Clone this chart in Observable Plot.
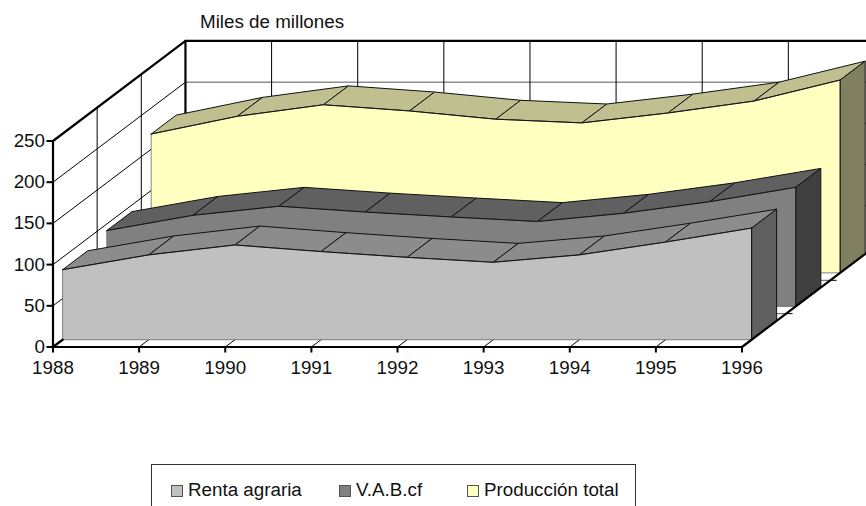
<!DOCTYPE html>
<html>
<head>
<meta charset="utf-8">
<script src="https://cdn.jsdelivr.net/npm/d3@7"></script>
<script src="https://cdn.jsdelivr.net/npm/@observablehq/plot@0.6"></script>
<style>
html,body{margin:0;padding:0;background:#fff;overflow:hidden;width:866px;height:506px;font-family:"Liberation Sans",Arial,sans-serif;color:#111}
#title{height:36px;box-sizing:border-box;padding-left:200px;padding-top:11px;font-size:18.8px;line-height:22px}
#chart svg{display:block}
#legend{position:absolute;left:151px;top:464px;width:485px;height:60px;box-sizing:border-box;border:1px solid #333;font-size:18.8px;line-height:22px}
#legend span.item{position:absolute;top:14px;white-space:nowrap}
#legend i{display:inline-block;width:10px;height:10px;border:1px solid #555;margin-right:5px;vertical-align:-1px}
</style>
</head>
<body>
<div id="title">Miles de millones</div>
<div id="chart"></div>
<div id="legend"></div>
<script>
const years = [1988,1989,1990,1991,1992,1993,1994,1995,1996];
const rentaAgraria    = [85,103,115,107,100,94,103,118.5,135.5];
const vabCf           = [92,110.5,121.5,114.5,108.5,103,113,127,144.5];
const produccionTotal = [168.5,190,204,196.5,186.5,182,194,208.5,234];
const valueTicks = [0,50,100,150,200,250];
const seriesNames = ["Renta agraria","V.A.B.cf","Producción total"];
const faceColors = ["#c0c0c0","#808080","#ffffc0"];
const roofColors = ["#8c8c8c","#606060","#bfbf90"];
const sideColors = ["#606060","#404040","#808060"];
const seriesValues = [rentaAgraria,vabCf,produccionTotal];

// oblique projection of the depth axis, expressed in data units
const depthX = 1.538, depthY = 121.4;
const bandFront = [0.0725,0.406,0.741], bandWidth = 0.189;
const P = (year,value,d) => ({x:year+d*depthX, y:value+d*depthY});
const yMax = 250, y0 = years[0], y1 = years[years.length-1];

const poly = (pts,id) => pts.map(([a,b,d]) => ({...P(a,b,d),id}));
const thin = {strokeWidth:1, strokeLinejoin:"round"};

function gridLines(){
  const rows=[], grey=[];
  // left wall and back wall
  valueTicks.slice(1,5).forEach((v,i)=>{
    rows.push(...poly([[y0,v,0],[y0,v,1]],"w"+i));
    grey.push(...poly([[y0,v,1],[y1,v,1]],"b"+i));
  });
  [1/3,2/3].forEach((d,i)=>rows.push(...poly([[y0,0,d],[y0,yMax,d]],"d"+i)));
  years.slice(1).forEach((yr,i)=>{
    rows.push(...poly([[yr,0,1],[yr,yMax,1]],"v"+i));
    rows.push(...poly([[yr,0,0],[yr,0,1]],"f"+i));
  });
  [1/3,2/3].forEach((d,i)=>{
    grey.push(...poly([[y0,0,d],[y1,0,d]],"h"+i));
    rows.push(...poly([[y1,0,d],[y1+0.07,0,d]],"t"+i));
  });
  return [Plot.line(grey,{x:"x",y:"y",z:"id",stroke:"#555",...thin}),
          Plot.line(rows,{x:"x",y:"y",z:"id",stroke:"#000",...thin})];
}

function seriesMarks(i){
  const vals = seriesValues[i], d0 = bandFront[i], d1 = d0+bandWidth;
  const roof=[];
  for(let k=0;k<years.length-1;k++){
    roof.push(...poly([[years[k],vals[k],d0],[years[k+1],vals[k+1],d0],[years[k+1],vals[k+1],d1],[years[k],vals[k],d1],[years[k],vals[k],d0]],"r"+k));
  }
  const last = vals.length-1;
  const side = poly([[y1,0,d0],[y1,vals[last],d0],[y1,vals[last],d1],[y1,0,d1],[y1,0,d0]],"s");
  const frontPts = [[y0,0,d0],...years.map((yr,k)=>[yr,vals[k],d0]),[y1,0,d0],[y0,0,d0]];
  const front = poly(frontPts,"f");
  const topEdge = poly(years.map((yr,k)=>[yr,vals[k],d0]),"t");
  const rightEdge = poly([[y1,0,d0],[y1,vals[last],d0]],"e");
  return [
    Plot.line(roof,{x:"x",y:"y",z:"id",fill:roofColors[i],stroke:"#111",...thin}),
    Plot.line(side,{x:"x",y:"y",fill:sideColors[i],stroke:"#111",...thin}),
    Plot.line(front,{x:"x",y:"y",fill:faceColors[i],stroke:"#666",strokeWidth:0.8}),
    Plot.line(topEdge,{x:"x",y:"y",stroke:"#111",...thin}),
    Plot.line(rightEdge,{x:"x",y:"y",stroke:"#111",...thin})
  ];
}

const thick = {stroke:"#000",strokeWidth:2.2,strokeLinejoin:"miter"};
const frameLine = poly([[y0,0,0],[y0,yMax,0],[y0,yMax,1],[y1,yMax,1]],"a");
const backEdge = poly([[y0,yMax,1],[y0,0,1]],"a");
const floorAxes = poly([[y0,0,0.0725],[y0,0,0],[y1,0,0],[y1,0,1]],"a");

const plot = Plot.plot({
  width:866, height:354,
  marginLeft:52.5, marginRight:124.5, marginTop:104.5, marginBottom:43.5,
  style:{fontFamily:'"Liberation Sans",Arial,sans-serif',fontSize:"18.8px",color:"#111",background:"#fff",overflow:"hidden"},
  x:{domain:[y0,y1]},
  y:{domain:[0,yMax]},
  marks:[
    ...gridLines(),
    Plot.line(backEdge,{x:"x",y:"y",...thick}),
    ...seriesMarks(2),
    ...seriesMarks(1),
    ...seriesMarks(0),
    Plot.line(frameLine,{x:"x",y:"y",...thick}),
    Plot.line(floorAxes,{x:"x",y:"y",...thick}),
    Plot.axisX({ticks:years,tickFormat:d=>String(d),tickSize:6,tickPadding:8,strokeWidth:2,stroke:"#000",fontSize:18.8,label:null}),
    Plot.axisY({ticks:valueTicks,tickSize:6,tickPadding:2,strokeWidth:2,stroke:"#000",fontSize:18.8,label:null})
  ]
});
document.getElementById("chart").appendChild(plot);

// legend
const legend = document.getElementById("legend");
const legendLeft = [19,187,315];
seriesNames.forEach((n,i)=>{
  const s = document.createElement("span");
  s.className="item"; s.style.left=legendLeft[i]+"px";
  const sw = document.createElement("i"); sw.style.background=faceColors[i];
  s.appendChild(sw); s.appendChild(document.createTextNode(n));
  legend.appendChild(s);
});
</script>
</body>
</html>
